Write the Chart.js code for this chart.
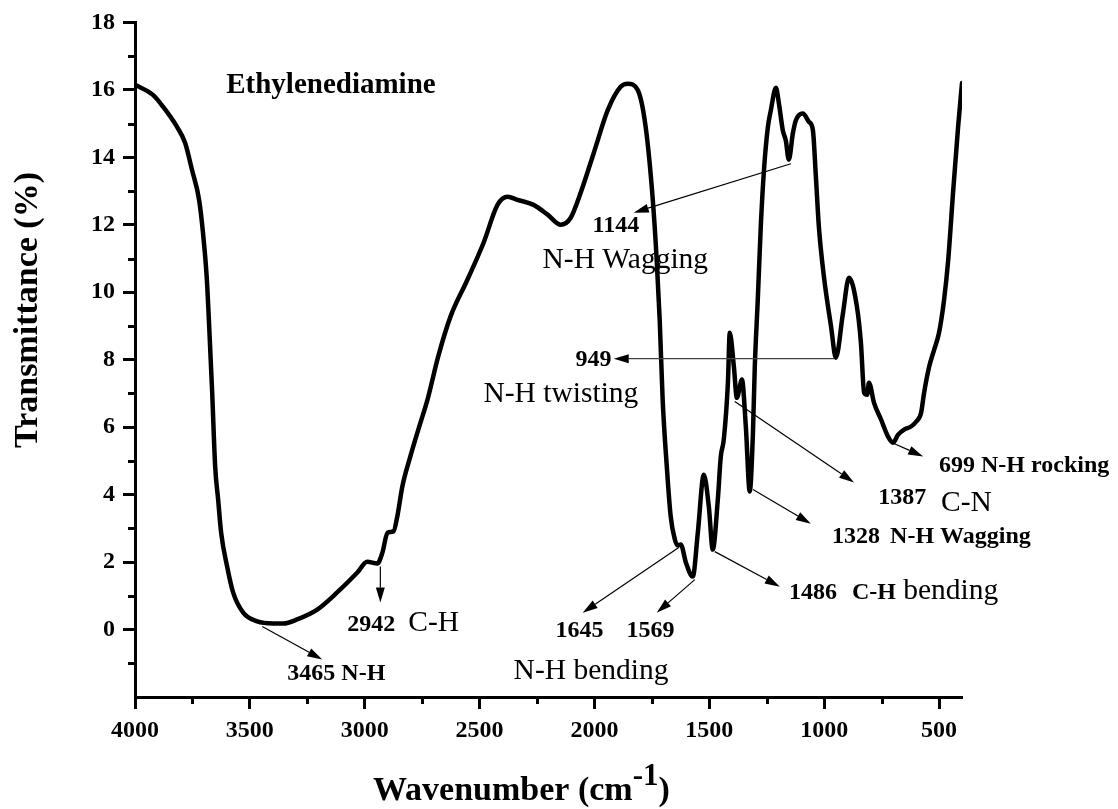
<!DOCTYPE html>
<html><head><meta charset="utf-8">
<script src="https://cdn.jsdelivr.net/npm/chart.js@4.4.1/dist/chart.umd.min.js"></script>
<style>html,body{margin:0;padding:0;background:#fff;}#wrap{width:1118px;height:809px;position:relative;}</style>
</head><body><div id="wrap"><canvas id="c" width="1118" height="809"></canvas></div>
<script>
// ---- data ----
const wavenumber = [4000,3922,3878,3817,3782,3752,3721,3704,3688,3677,3664,3651,3638,3625,3599,3573,3529,3468,3398,3355,3294,3207,3120,3032,2989,2945,2923,2901,2875,2858,2836,2801,2758,2727,2680,2627,2553,2483,2422,2378,2335,2265,2204,2147,2104,2060,2003,1942,1886,1855,1812,1777,1746,1729,1716,1703,1685,1668,1650,1637,1624,1602,1572,1550,1524,1502,1485,1463,1450,1437,1419,1411,1393,1380,1358,1341,1324,1310,1302,1289,1276,1262,1245,1232,1210,1197,1180,1167,1154,1136,1123,1093,1066,1049,1036,1023,1001,970,949,918,892,858,840,826,813,805,783,752,722,700,678,652,622,600,578,565,543,521,500,478,460,439,417,400];
const transmittance = [16.15,15.85,15.5,14.9,14.43,13.63,12.74,11.76,10.46,8.98,7.02,4.83,3.85,2.87,1.87,1.1,0.5,0.24,0.18,0.18,0.3,0.59,1.1,1.69,2.01,1.96,2.28,2.87,2.91,3.36,4.25,5.14,6.12,6.81,8.1,9.27,10.37,11.46,12.59,12.83,12.74,12.59,12.3,12.0,12.2,12.95,14.13,15.4,16.09,16.18,16.0,14.9,12.74,10.96,9.19,6.81,4.83,3.35,2.67,2.49,2.52,1.99,1.57,2.87,4.59,3.64,2.37,3.85,5.13,5.63,7.32,8.8,7.79,6.87,7.41,6.02,4.09,5.84,7.79,9.78,11.94,13.63,14.9,15.4,16.06,15.6,14.8,14.5,13.93,14.72,15.1,15.3,15.05,14.8,13.42,11.94,10.46,8.98,8.06,9.39,10.43,9.6,8.5,7.02,6.96,7.32,6.72,6.22,5.72,5.54,5.78,5.93,6.02,6.16,6.43,7.02,7.79,8.3,8.8,9.78,10.96,12.95,14.9,16.2];
const xTicks = [4000,3500,3000,2500,2000,1500,1000,500];
const xMinorTicks = [3750,3250,2750,2250,1750,1250,750];
const yTicks = [0,2,4,6,8,10,12,14,16,18];
const yMinorTicks = [-1,1,3,5,7,9,11,13,15,17];

// annotation arrows: from (x,y) on the curve to the arrow head (x,y), in data units
const arrowFromX = [3446,2932,1633,1563,1476,1310,1389,704,957,1145];
const arrowFromY = [0.09,1.87,2.43,1.48,2.31,4.15,6.76,5.54,8.03,13.81];
const arrowToX   = [3185,2932,2051,1729,1193,1058,870,569,1916,1829];
const arrowToY   = [-0.89,0.8,0.5,0.5,1.27,3.14,4.36,5.13,8.03,12.36];

// annotation texts (left edge x, baseline y in data units); b = bold
const labelText = ['Ethylenediamine','2942','C-H','3465 N-H','1645','1569','N-H bending','1486','C-H','bending','1328','N-H Wagging','1387','C-N','699 N-H rocking','949','N-H twisting','1144','N-H Wagging'];
const labelX    = [3603,3076,2810,3337,2169,1860,2352,1153,879,656,966,713,765,491,500,2082,2483,2008,2226];
const labelY    = [15.91,-0.03,-0.03,-1.51,-0.21,-0.21,-1.48,0.92,0.92,0.92,2.58,2.58,3.73,3.5,4.68,7.82,6.76,11.79,10.73];
const labelBold = [1,1,0,1,1,1,0,1,1,0,1,1,1,0,1,1,0,1,0];
const labelBig  = [1,0,0,0,0,0,0,0,0,0,0,0,0,0,0,0,0,0,0];

const SERIF = '"Liberation Serif","Times New Roman",serif';

const overlay = {
  id: 'overlay',
  afterDraw(chart) {
    const ctx = chart.ctx, xs = chart.scales.x, ys = chart.scales.y, a = chart.chartArea;
    ctx.save();
    // minor ticks
    ctx.strokeStyle = '#000'; ctx.lineWidth = 3; ctx.lineCap = 'butt';
    xMinorTicks.forEach(v => {
      const px = Math.round(xs.getPixelForValue(v)) + 0.5;
      ctx.beginPath(); ctx.moveTo(px, a.bottom); ctx.lineTo(px, a.bottom + 7); ctx.stroke();
    });
    yMinorTicks.forEach(v => {
      const py = Math.round(ys.getPixelForValue(v)) + 0.5;
      ctx.beginPath(); ctx.moveTo(a.left, py); ctx.lineTo(a.left - 7, py); ctx.stroke();
    });
    // arrows
    for (let i = 0; i < arrowFromX.length; i++) {
      const x1 = xs.getPixelForValue(arrowFromX[i]), y1 = ys.getPixelForValue(arrowFromY[i]);
      const x2 = xs.getPixelForValue(arrowToX[i]), y2 = ys.getPixelForValue(arrowToY[i]);
      const ang = Math.atan2(y2 - y1, x2 - x1), L = 15, W = 4.5;
      const bx = x2 - L * Math.cos(ang), by = y2 - L * Math.sin(ang);
      ctx.strokeStyle = i === 8 ? '#444' : '#000'; ctx.fillStyle = '#000'; ctx.lineWidth = 1.2;
      ctx.beginPath(); ctx.moveTo(x1, y1); ctx.lineTo(bx, by); ctx.stroke();
      ctx.beginPath();
      ctx.moveTo(x2, y2);
      ctx.lineTo(bx + W * Math.sin(ang), by - W * Math.cos(ang));
      ctx.lineTo(bx - W * Math.sin(ang), by + W * Math.cos(ang));
      ctx.closePath(); ctx.fill();
    }
    // labels
    ctx.fillStyle = '#000'; ctx.textAlign = 'left'; ctx.textBaseline = 'alphabetic';
    for (let i = 0; i < labelText.length; i++) {
      const size = labelBig[i] ? 29 : (labelBold[i] ? 24 : 29.5);
      ctx.font = (labelBold[i] ? 'bold ' : '') + size + 'px ' + SERIF;
      ctx.fillText(labelText[i], xs.getPixelForValue(labelX[i]), ys.getPixelForValue(labelY[i]));
    }
    // axis titles
    ctx.font = 'bold 34px ' + SERIF;
    ctx.save();
    ctx.translate(37, 310); ctx.rotate(-Math.PI / 2);
    ctx.textAlign = 'center';
    ctx.fillText('Transmittance (%)', 0, 0);
    ctx.restore();
    ctx.textAlign = 'left';
    let tx = 373; const by0 = 800;
    const t1 = 'Wavenumber (cm';
    ctx.fillText(t1, tx, by0); tx += ctx.measureText(t1).width;
    ctx.font = 'bold 31px ' + SERIF;
    ctx.fillText('-1', tx, by0 - 15); tx += ctx.measureText('-1').width;
    ctx.font = 'bold 34px ' + SERIF;
    ctx.fillText(')', tx, by0);
    ctx.restore();
  }
};

const points = wavenumber.map((x, i) => ({ x: x, y: transmittance[i] }));

new Chart(document.getElementById('c'), {
  type: 'line',
  data: { datasets: [{ data: points, borderColor: '#000', borderWidth: 4.5, pointRadius: 0,
    fill: false, cubicInterpolationMode: 'monotone', borderJoinStyle: 'round', borderCapStyle: 'round' }] },
  options: {
    responsive: false, animation: false, devicePixelRatio: 1,
    layout: { padding: { left: 0, right: 156, top: 22, bottom: 0 } },
    plugins: { legend: { display: false }, tooltip: { enabled: false }, title: { display: false } },
    scales: {
      x: {
        type: 'linear', reverse: true, min: 400, max: 4000,
        afterBuildTicks: s => { s.ticks = xTicks.map(v => ({ value: v })); },
        afterFit: s => { s.height = 112; },
        border: { display: true, color: '#000', width: 3 },
        grid: { display: true, drawOnChartArea: false, drawTicks: true, tickLength: 12, tickWidth: 3, tickColor: '#000' },
        ticks: { color: '#000', font: { family: SERIF, weight: 'bold', size: 24 }, padding: 7, maxRotation: 0, autoSkip: false,
          callback: v => String(v) }
      },
      y: {
        type: 'linear', min: -2, max: 18,
        afterBuildTicks: s => { s.ticks = yTicks.map(v => ({ value: v })); },
        afterFit: s => { s.width = 135; },
        border: { display: true, color: '#000', width: 3 },
        grid: { display: true, drawOnChartArea: false, drawTicks: true, tickLength: 12, tickWidth: 3, tickColor: '#000' },
        ticks: { color: '#000', font: { family: SERIF, weight: 'bold', size: 24 }, padding: 8, autoSkip: false,
          callback: v => String(v) }
      }
    }
  },
  plugins: [overlay]
});
</script></body></html>
